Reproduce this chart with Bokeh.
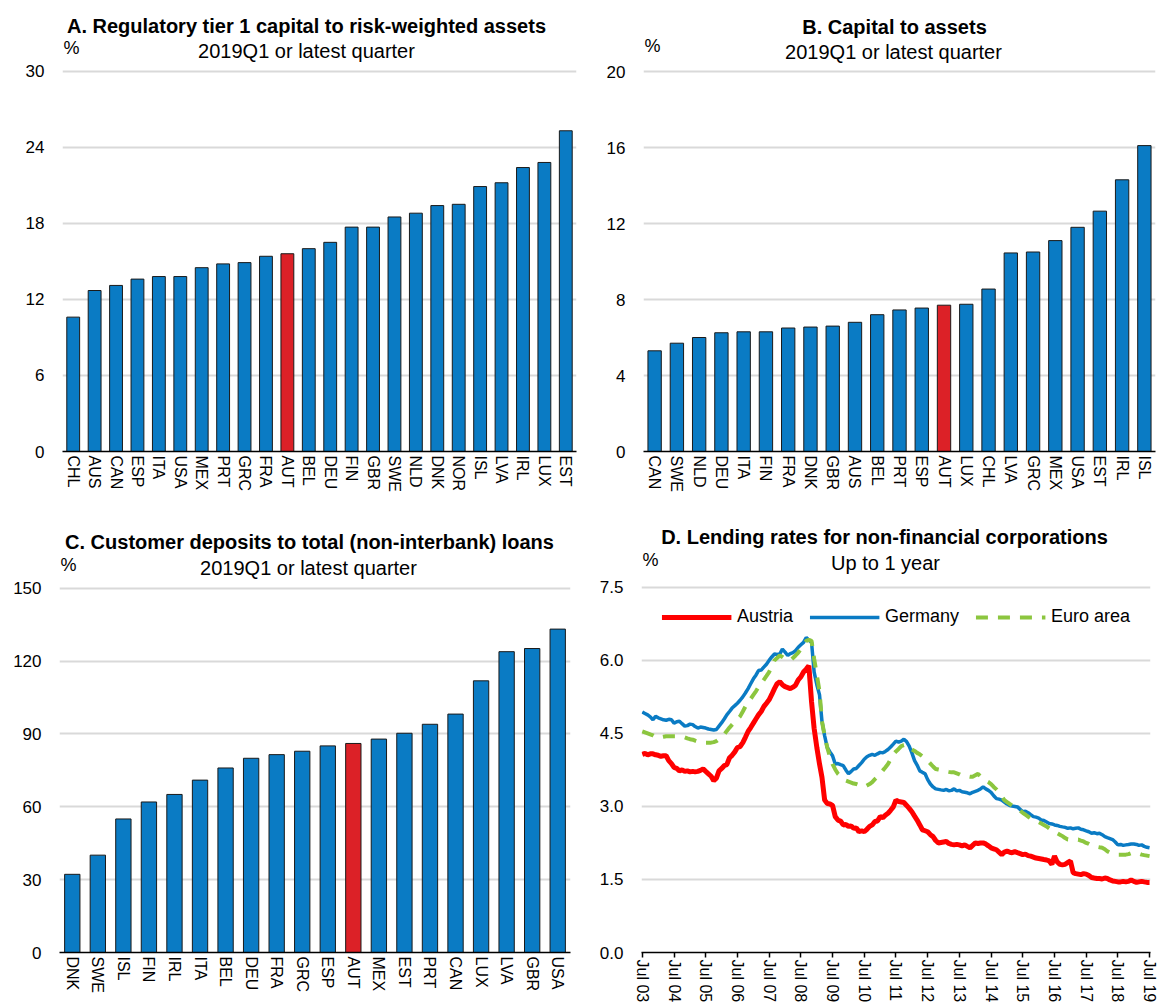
from datetime import datetime
import pandas as pd
from bokeh.plotting import figure
from bokeh.core.properties import value
from bokeh.models import (FactorRange, Range1d, FixedTicker, Legend, LegendItem,
                          DatetimeTickFormatter, NumeralTickFormatter, ColumnDataSource)
from bokeh.layouts import column, row
from bokeh.embed import file_html
from bokeh.resources import INLINE

# ---------------- data ----------------
a_countries = ["CHL", "AUS", "CAN", "ESP", "ITA", "USA", "MEX", "PRT", "GRC", "FRA", "AUT", "BEL",
               "DEU", "FIN", "GBR", "SWE", "NLD", "DNK", "NOR", "ISL", "LVA", "IRL", "LUX", "EST"]
a_values = [10.6, 12.7, 13.1, 13.6, 13.8, 13.8, 14.5, 14.8, 14.9, 15.4, 15.6, 16.0,
            16.5, 17.7, 17.7, 18.5, 18.8, 19.4, 19.5, 20.9, 21.2, 22.4, 22.8, 25.3]
a_ticks = [0, 6, 12, 18, 24, 30]

b_countries = ["CAN", "SWE", "NLD", "DEU", "ITA", "FIN", "FRA", "DNK", "GBR", "AUS", "BEL", "PRT",
               "ESP", "AUT", "LUX", "CHL", "LVA", "GRC", "MEX", "USA", "EST", "IRL", "ISL"]
b_values = [5.3, 5.7, 6.0, 6.25, 6.3, 6.3, 6.5, 6.55, 6.6, 6.8, 7.2, 7.45,
            7.55, 7.7, 7.75, 8.55, 10.45, 10.5, 11.1, 11.8, 12.65, 14.3, 16.1]
b_ticks = [0, 4, 8, 12, 16, 20]

c_countries = ["DNK", "SWE", "ISL", "FIN", "IRL", "ITA", "BEL", "DEU", "FRA", "GRC", "ESP", "AUT",
               "MEX", "EST", "PRT", "CAN", "LUX", "LVA", "GBR", "USA"]
c_values = [32.2, 40.1, 55.0, 62.0, 65.1, 71.0, 76.0, 80.0, 81.5, 82.9, 85.1, 86.1,
            87.9, 90.3, 94.0, 98.2, 111.9, 123.9, 125.2, 133.2]
c_ticks = [0, 30, 60, 90, 120, 150]

d_start = "2003-07-01"
austria = [
    4.07, 4.09, 4.06, 4.08, 4.08, 4.06, 4.05, 4.03, 4.04, 4.04, 3.94, 3.88,
    3.80, 3.78, 3.73, 3.75, 3.72, 3.73, 3.71, 3.72, 3.71, 3.72, 3.74, 3.77,
    3.72, 3.67, 3.62, 3.53, 3.58, 3.73, 3.78, 3.84, 3.86, 4.00, 4.05, 4.12,
    4.21, 4.23, 4.31, 4.42, 4.54, 4.62, 4.71, 4.80, 4.88, 4.95, 5.05, 5.12,
    5.19, 5.30, 5.42, 5.52, 5.56, 5.50, 5.46, 5.44, 5.42, 5.45, 5.49, 5.60,
    5.66, 5.76, 5.82, 5.89, 5.15, 4.60, 4.21, 3.87, 3.60, 3.13, 3.06, 3.05,
    3.02, 2.79, 2.72, 2.70, 2.62, 2.63, 2.59, 2.60, 2.55, 2.56, 2.48, 2.50,
    2.48, 2.53, 2.59, 2.62, 2.69, 2.70, 2.79, 2.77, 2.82, 2.86, 2.92, 2.99,
    3.13, 3.10, 3.09, 3.08, 3.02, 2.96, 2.89, 2.80, 2.72, 2.62, 2.52, 2.50,
    2.48, 2.42, 2.38, 2.30, 2.25, 2.26, 2.27, 2.28, 2.24, 2.22, 2.21, 2.22,
    2.21, 2.19, 2.21, 2.18, 2.15, 2.20, 2.25, 2.24, 2.25, 2.25, 2.23, 2.19,
    2.15, 2.13, 2.11, 2.06, 2.01, 2.06, 2.08, 2.06, 2.05, 2.07, 2.05, 2.03,
    2.01, 2.02, 1.99, 1.98, 1.96, 1.94, 1.93, 1.92, 1.91, 1.90, 1.88, 1.81,
    1.98, 1.86, 1.81, 1.80, 1.81, 1.85, 1.88, 1.64, 1.62, 1.61, 1.60, 1.62,
    1.61, 1.58, 1.54, 1.53, 1.52, 1.52, 1.51, 1.53, 1.52, 1.49, 1.47, 1.46,
    1.45, 1.45, 1.46, 1.45, 1.46, 1.49, 1.46, 1.44, 1.45, 1.46, 1.45, 1.44,
    1.44]
germany = [
    4.94, 4.91, 4.88, 4.84, 4.78, 4.85, 4.82, 4.80, 4.78, 4.77, 4.79, 4.78,
    4.71, 4.74, 4.75, 4.70, 4.65, 4.66, 4.69, 4.68, 4.64, 4.61, 4.63, 4.62,
    4.61, 4.59, 4.58, 4.57, 4.58, 4.65, 4.72, 4.80, 4.88, 4.95, 5.02, 5.07,
    5.12, 5.18, 5.25, 5.33, 5.42, 5.52, 5.62, 5.70, 5.79, 5.80, 5.86, 5.92,
    6.00, 6.07, 6.13, 6.12, 6.13, 6.23, 6.17, 6.10, 6.14, 6.16, 6.20, 6.27,
    6.32, 6.37, 6.47, 6.42, 6.37, 5.76, 5.50, 5.29, 4.75, 4.45, 4.21, 4.12,
    4.04, 3.87, 3.88, 3.86, 3.84, 3.75, 3.67, 3.72, 3.77, 3.78, 3.84, 3.90,
    3.97, 4.02, 4.05, 4.07, 4.05, 4.08, 4.11, 4.10, 4.13, 4.17, 4.22, 4.28,
    4.34, 4.32, 4.34, 4.38, 4.33, 4.24, 4.10, 3.94, 3.85, 3.73, 3.70, 3.67,
    3.55, 3.46, 3.40, 3.36, 3.35, 3.34, 3.33, 3.35, 3.32, 3.33, 3.36, 3.32,
    3.33, 3.30, 3.29, 3.28, 3.26, 3.29, 3.31, 3.33, 3.36, 3.40, 3.36, 3.33,
    3.29, 3.22, 3.16, 3.15, 3.13, 3.09, 3.05, 3.02, 3.01, 3.00, 2.99, 2.94,
    2.89, 2.90, 2.87, 2.83, 2.79, 2.78, 2.76, 2.72, 2.71, 2.68, 2.65, 2.64,
    2.62, 2.61, 2.59, 2.58, 2.57, 2.55, 2.56, 2.54, 2.55, 2.56, 2.53, 2.52,
    2.50, 2.48, 2.45, 2.46, 2.44, 2.45, 2.42, 2.38, 2.36, 2.34, 2.32, 2.27,
    2.21, 2.22, 2.20, 2.21, 2.22, 2.23, 2.23, 2.22, 2.20, 2.21, 2.18, 2.16,
    2.15]
euro_area = [
    4.54, 4.52, 4.50, 4.48, 4.46, 4.43, 4.41, 4.42, 4.43, 4.44, 4.44, 4.44,
    4.44, 4.44, 4.44, 4.43, 4.42, 4.40, 4.38, 4.37, 4.35, 4.33, 4.32, 4.31,
    4.31, 4.31, 4.31, 4.32, 4.34, 4.38, 4.43, 4.48, 4.55, 4.62, 4.68, 4.74,
    4.79, 4.85, 4.95, 5.05, 5.13, 5.21, 5.29, 5.37, 5.45, 5.52, 5.60, 5.68,
    5.76, 5.88, 6.00, 6.05, 6.10, 6.07, 6.03, 6.01, 6.00, 6.05, 6.10, 6.16,
    6.23, 6.31, 6.40, 6.42, 6.40, 6.03, 5.70, 5.36, 4.75, 4.45, 4.21, 4.02,
    3.87, 3.76, 3.67, 3.62, 3.57, 3.53, 3.51, 3.49, 3.47, 3.46, 3.44, 3.42,
    3.40, 3.43, 3.46, 3.50, 3.56, 3.61, 3.67, 3.74, 3.80, 3.87, 3.97, 4.07,
    4.13, 4.18, 4.24, 4.26, 4.27, 4.22, 4.17, 4.14, 4.10, 4.07, 4.03, 3.98,
    3.94, 3.88, 3.82, 3.77, 3.76, 3.75, 3.73, 3.72, 3.71, 3.70, 3.70, 3.68,
    3.66, 3.63, 3.63, 3.62, 3.61, 3.61, 3.64, 3.67, 3.62, 3.57, 3.53, 3.50,
    3.46, 3.40, 3.35, 3.29, 3.21, 3.13, 3.09, 3.05, 3.02, 2.99, 2.95, 2.91,
    2.87, 2.83, 2.79, 2.75, 2.73, 2.70, 2.68, 2.65, 2.62, 2.59, 2.55, 2.51,
    2.48, 2.45, 2.42, 2.39, 2.35, 2.32, 2.32, 2.32, 2.32, 2.32, 2.30, 2.28,
    2.25, 2.23, 2.20, 2.18, 2.17, 2.16, 2.15, 2.12, 2.08, 2.05, 2.04, 2.02,
    2.01, 2.01, 2.01, 2.01, 2.02, 2.04, 2.05, 2.04, 2.03, 2.01, 2.00, 1.99,
    1.98]
d_tick_years = list(range(2003, 2020))
d_ticks = [0, 1.5, 3.0, 4.5, 6.0, 7.5]

# ---------------- styling ----------------
FONT = "Liberation Sans"
BLUE = "#0A7BC4"
RED_BAR = "#DC2127"
GRID = "#D9D9D9"


def style_axes(p, yticks, label_size="16px"):
    p.outline_line_color = None
    p.border_fill_color = "white"
    p.background_fill_color = "white"
    p.ygrid.grid_line_color = GRID
    p.ygrid.grid_line_width = 2
    p.xgrid.grid_line_color = None
    p.yaxis.ticker = FixedTicker(ticks=yticks)
    for ax in p.yaxis:
        ax.axis_line_color = None
        ax.major_tick_line_color = None
        ax.minor_tick_line_color = None
        ax.major_tick_out = 0
        ax.major_tick_in = 0
        ax.major_label_standoff = 18
        ax.major_label_text_font = FONT
        ax.major_label_text_font_size = "17px"
        ax.major_label_text_color = "black"
    for ax in p.xaxis:
        ax.axis_line_color = "black"
        ax.axis_line_width = 1.5
        ax.minor_tick_line_color = None
        ax.major_label_text_font = FONT
        ax.major_label_text_font_size = label_size
        ax.major_label_text_color = "black"
        ax.major_label_orientation = "vertical"


class Geo:
    """Pixel geometry of one panel (figure box, borders, top of the value scale)."""
    def __init__(self, x0, y0, w, h, left, right, top, bottom, plot_top, ymax):
        self.w, self.h = w, h
        self.borders = dict(min_border_left=left, min_border_right=right,
                            min_border_top=top, min_border_bottom=bottom)
        self.frame_left = x0 + left
        self.frame_right = x0 + w - right
        self.frame_top = y0 + top
        frame_bottom = y0 + h - bottom
        self.plot_top = plot_top
        self.ymax = ymax
        self.scale = (frame_bottom - plot_top) / ymax

    def y_at(self, abs_y):
        return self.ymax + (self.plot_top - abs_y) / self.scale

    @property
    def y_end(self):
        return self.y_at(self.frame_top)


def add_texts(p, g, xref, xshift, title, subtitle, t_xy, s_xy, pct_xy):
    items = [(title, t_xy, "20px", "bold", "center"),
             (subtitle, s_xy, "20px", "normal", "center"),
             ("%", pct_xy, "18px", "normal", "left")]
    for txt, (ax, ay), size, style, align in items:
        p.text(x=[xref], y=[g.y_at(ay)], text=[txt],
               x_offset=ax - g.frame_left - xshift,
               text_align=align, text_baseline="middle",
               text_font=value(FONT), text_font_size=value(size),
               text_font_style=style, text_color="black")


def bar_panel(cats, vals, yticks, g):
    colors = [RED_BAR if c == "AUT" else BLUE for c in cats]
    src = ColumnDataSource(dict(cat=cats, val=vals, color=colors))
    p = figure(x_range=FactorRange(factors=cats, range_padding=0),
               y_range=Range1d(0, g.y_end),
               width=g.w, height=g.h, output_backend="svg", toolbar_location=None,
               **g.borders)
    p.vbar(x="cat", top="val", width=0.6, fill_color="color", line_color="#1A1A1A",
           line_width=1, source=src)
    style_axes(p, yticks)
    p.xaxis.major_tick_line_color = None
    p.xaxis.major_tick_out = 0
    p.xaxis.major_tick_in = 0
    p.xaxis.major_label_standoff = 4
    return p


# panel A
gA = Geo(0, 0, 583, 505, 62, 7, 2, 52, 71, 30)
pA = bar_panel(a_countries, a_values, a_ticks, gA)
pitchA = (gA.frame_right - gA.frame_left) / len(a_countries)
add_texts(pA, gA, a_countries[0], pitchA / 2,
          "A. Regulatory tier 1 capital to risk-weighted assets", "2019Q1 or latest quarter",
          (306, 26), (306, 51), (63, 48))

# panel B
gB = Geo(583, 0, 574, 505, 60, 2, 2, 54, 71, 20)
pB = bar_panel(b_countries, b_values, b_ticks, gB)
pitchB = (gB.frame_right - gB.frame_left) / len(b_countries)
add_texts(pB, gB, b_countries[0], pitchB / 2,
          "B. Capital to assets", "2019Q1 or latest quarter",
          (894, 26), (893, 51), (644, 45))

# panel C
gC = Geo(0, 505, 583, 500, 59, 13, 2, 52, 588, 150)
pC = bar_panel(c_countries, c_values, c_ticks, gC)
pitchC = (gC.frame_right - gC.frame_left) / len(c_countries)
add_texts(pC, gC, c_countries[0], pitchC / 2,
          "C. Customer deposits to total (non-interbank) loans", "2019Q1 or latest quarter",
          (309, 542), (308, 568), (60, 565))

# ---------------- panel D ----------------
gD = Geo(583, 505, 574, 500, 58, 7, 2, 52, 587, 7.5)
d_dates_a = pd.date_range(d_start, periods=len(austria), freq="MS")
d_dates_g = pd.date_range(d_start, periods=len(germany), freq="MS")
d_dates_e = pd.date_range(d_start, periods=len(euro_area), freq="MS")
d_x0 = datetime(2003, 6, 22)
d_x1 = datetime(2019, 7, 12)

pD = figure(x_axis_type="datetime", x_range=Range1d(d_x0, d_x1),
            y_range=Range1d(0, gD.y_end), width=gD.w, height=gD.h,
            output_backend="svg", toolbar_location=None, **gD.borders)
r_a = pD.line(d_dates_a, austria, line_color="#FF0000", line_width=5)
r_g = pD.line(d_dates_g, germany, line_color=BLUE, line_width=3.5)
r_e = pD.line(d_dates_e, euro_area, line_color="#8CC63F", line_width=4, line_dash="12 10")
style_axes(pD, d_ticks)
pD.yaxis.formatter = NumeralTickFormatter(format="0.0")
pD.xaxis.ticker = FixedTicker(ticks=[pd.Timestamp(f"{y}-07-01").value // 10**6 for y in d_tick_years])
pD.xaxis.formatter = DatetimeTickFormatter(days="%b %y", months="%b %y", years="%b %y")
pD.xaxis.major_tick_line_color = "black"
pD.xaxis.major_tick_line_width = 1.5
pD.xaxis.major_tick_out = 5
pD.xaxis.major_tick_in = 0
pD.xaxis.major_label_standoff = 2

legend = Legend(items=[LegendItem(label="Austria", renderers=[r_a]),
                       LegendItem(label="Germany", renderers=[r_g]),
                       LegendItem(label="Euro area", renderers=[r_e])],
                orientation="horizontal", location="top_center",
                border_line_color=None, background_fill_alpha=0,
                glyph_width=70, glyph_height=20, label_standoff=6, spacing=16,
                padding=4, margin=int(616 - gD.frame_top - 10),
                label_text_font=FONT, label_text_font_size="18px", label_text_color="black")
pD.add_layout(legend)
add_texts(pD, gD, d_x0, 0,
          "D. Lending rates for non-financial corporations", "Up to 1 year",
          (884, 537), (885, 563), (642, 560))

layout = column(row(pA, pB), row(pC, pD))
open("out.html", "w").write(file_html(layout, INLINE))
